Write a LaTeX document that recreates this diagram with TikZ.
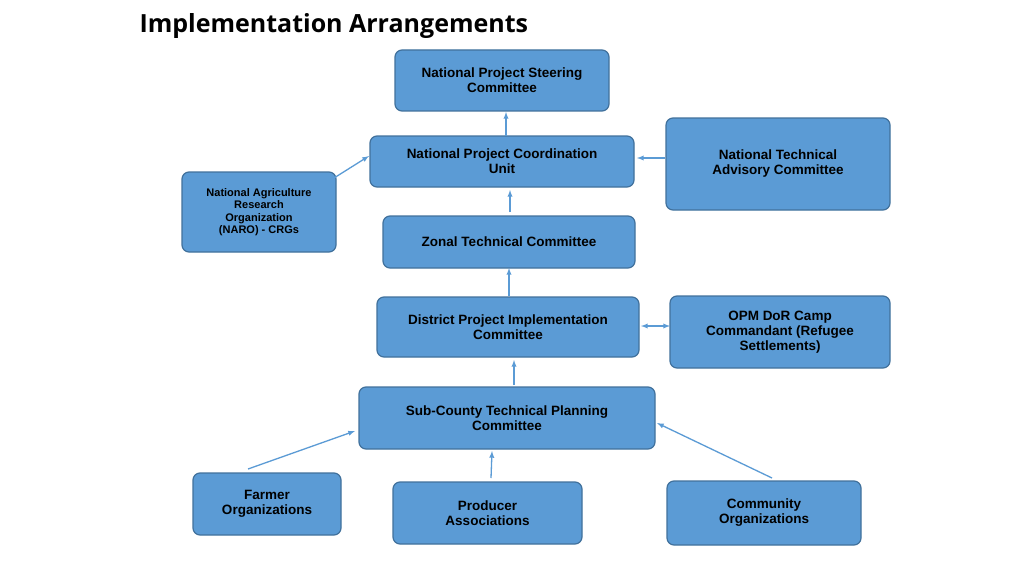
\documentclass[tikz,border=0pt]{standalone}
\usepackage{fontspec}
\setmainfont{Liberation Sans}
\newfontfamily\titlefont{Open Sans}
\begin{document}
\begin{tikzpicture}[x=1pt,y=-1pt,
  box/.style={draw=boxline,fill=boxfill,line width=1.2pt,rounded corners=7pt,align=center,font=\bfseries\fontsize{13.5}{15}\selectfont,inner sep=0pt},
  arr/.style={-latex,draw=arrowc,line width=1.3pt}]
\definecolor{boxfill}{HTML}{5B9BD5}
\definecolor{boxline}{HTML}{41719C}
\definecolor{arrowc}{HTML}{5B9BD5}
\useasboundingbox (0,0) rectangle (1024,575);
\fill[white] (0,0) rectangle (1024,575);
\node[anchor=west,font=\titlefont\bfseries\fontsize{25}{28}\selectfont] (title) at (136,26) {Implementation Arrangements};
\def\bx#1#2#3#4#5#6{\node[box,minimum width=#4-#2,minimum height=#5-#3] (#1) at ({(#2+#4)/2},{(#3+#5)/2}) {#6};}
\bx{npsc}{395}{50}{609}{111}{National Project Steering\\Committee}
\bx{npcu}{370}{136}{634}{187}{National Project Coordination\\Unit}
\node[box,minimum width=154,minimum height=80,font=\bfseries\fontsize{11}{12.5}\selectfont] (naro) at (259,212) {National Agriculture\\Research\\Organization\\(NARO) - CRGs};
\bx{ntac}{666}{118}{890}{210}{National Technical\\Advisory Committee}
\bx{ztc}{383}{216}{635}{268}{Zonal Technical Committee}
\bx{dpic}{377}{297}{639}{357}{District Project Implementation\\Committee}
\bx{opm}{670}{296}{890}{368}{OPM DoR Camp\\Commandant (Refugee\\Settlements)}
\bx{sc}{359}{387}{655}{449}{Sub-County Technical Planning\\Committee}
\bx{fo}{193}{473}{341}{535}{Farmer\\Organizations}
\bx{pa}{393}{482}{582}{544}{Producer\\Associations}
\bx{co}{667}{481}{861}{545}{Community\\Organizations}
\coordinate (a1) at (506,136); \coordinate (a2) at (506,112);
\draw[arr] (a1) -- (a2);
\coordinate (b1) at (334,178); \coordinate (b2) at (369,156);
\draw[arr] (b1) -- (b2);
\draw[arr] (ntac.west |- 0,158) -- (637,158);
\coordinate (c1) at (510,212); \coordinate (c2) at (510,190);
\draw[arr] (c1) -- (c2);
\coordinate (d1) at (509,296); \coordinate (d2) at (509,268);
\draw[arr] (d1) -- (d2);
\coordinate (e1) at (670,326); \coordinate (e2) at (641,326);
\draw[arr,latex-latex] (e1) -- (e2);
\coordinate (f1) at (514,385); \coordinate (f2) at (514,360);
\draw[arr] (f1) -- (f2);
\coordinate (g1) at (248,469); \coordinate (g2) at (355,431);
\draw[arr] (g1) -- (g2);
\coordinate (h1) at (491,478); \coordinate (h2) at (492,451);
\draw[arr] (h1) -- (h2);
\coordinate (i1) at (772,478); \coordinate (i2) at (657,423);
\draw[arr] (i1) -- (i2);
\end{tikzpicture}
\end{document}
